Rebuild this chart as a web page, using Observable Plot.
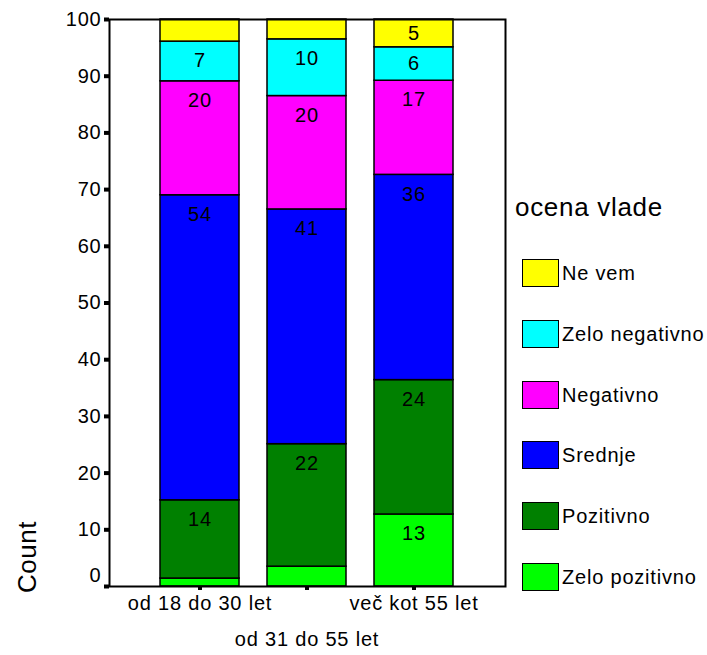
<!DOCTYPE html>
<html><head><meta charset="utf-8">
<script src="https://cdn.jsdelivr.net/npm/d3@7"></script>
<script src="https://cdn.jsdelivr.net/npm/@observablehq/plot@0.6"></script>
<style>
body{margin:0;background:#fff;font-family:"Liberation Sans",Arial,sans-serif;}
#wrap{position:relative;width:707px;height:655px;overflow:hidden;}
#wrap svg{position:absolute;left:0;top:0;}
.ltitle{position:absolute;left:515px;top:192px;font-size:26px;line-height:30px;white-space:nowrap;letter-spacing:0.7px;}
.sw{position:absolute;left:522px;width:37px;height:28px;box-sizing:border-box;border:1.5px solid #000;}
.lab{position:absolute;left:562px;font-size:20px;line-height:24px;white-space:nowrap;letter-spacing:0.8px;}
.count{position:absolute;left:27px;top:557px;font-size:26px;transform:translate(-50%,-50%) rotate(-90deg);white-space:nowrap;letter-spacing:0.5px;}
</style></head><body><div id="wrap"></div>
<script>
const groups = ["od 18 do 30 let", "od 31 do 55 let", "več kot 55 let"];
// stacking order, bottom to top
const categories = ["Zelo pozitivno", "Pozitivno", "Srednje", "Negativno", "Zelo negativno", "Ne vem"];
const colors = ["#00ff00", "#008000", "#0000ff", "#ff00ff", "#00ffff", "#ffff00"];
const zeloPozitivno = [1.4, 3.5, 12.7];
const pozitivno = [13.8, 21.6, 23.7];
const srednje = [53.8, 41.4, 36.2];
const negativno = [20.1, 20.0, 16.6];
const zeloNegativno = [7.0, 10.0, 5.9];
const neVem = [3.9, 3.5, 4.9];
const yTicks = [0, 10, 20, 30, 40, 50, 60, 70, 80, 90, 100];
const legendTitle = "ocena vlade";
const yLabel = "Count";

const series = [zeloPozitivno, pozitivno, srednje, negativno, zeloNegativno, neVem];
const rows = [];
const labels = [];
groups.forEach((g, gi) => {
  let start = 0;
  categories.forEach((c, ci) => {
    const v = series[ci][gi];
    const end = start + v;
    rows.push({group: g, category: c, value: v});
    if (v >= 4.5) labels.push({group: g, ly: Math.max(start + v / 2, end - 3.4), label: String(Math.round(v))});
    start = end;
  });
});

const font = '"Liberation Sans", Arial, sans-serif';
const chart = Plot.plot({
  width: 707, height: 655,
  marginLeft: 109, marginRight: 202, marginTop: 19, marginBottom: 69,
  style: {fontFamily: font, fontSize: "20px", background: "white", color: "black", overflow: "visible", letterSpacing: "0.8px"},
  x: {domain: groups, paddingInner: 0.2593, paddingOuter: 0.463, axis: null},
  y: {domain: [0, 100], axis: null},
  color: {domain: categories, range: colors},
  marks: [
    Plot.barY(rows, {x: "group", y: "value", fill: "category", stroke: "black", strokeWidth: 1.5, order: categories}),
    Plot.text(labels, {x: "group", y: "ly", text: "label", fontSize: 20, fill: "black"}),
    Plot.frame({stroke: "black", strokeWidth: 2}),
    Plot.axisY({ticks: yTicks, tickSize: 5, strokeWidth: 4, tickFormat: () => "", label: null}),
    Plot.axisX({tickSize: 4, strokeWidth: 4, tickFormat: () => "", label: null}),
    Plot.text(yTicks.filter(t => t > 0), {y: d => d, text: d => String(d), frameAnchor: "left", textAnchor: "end", dx: -8, fontSize: 20}),
    Plot.text(yTicks.filter(t => t === 0), {y: d => d, text: d => String(d), frameAnchor: "left", textAnchor: "end", dx: -8, dy: -11, fontSize: 20}),
    Plot.text(groups.filter((g, i) => i !== 1), {x: d => d, text: d => d, frameAnchor: "bottom", dy: 23, fontSize: 20}),
    Plot.text(groups.filter((g, i) => i === 1), {x: d => d, text: d => d, frameAnchor: "bottom", dy: 59, fontSize: 20})
  ]
});
const wrap = document.getElementById("wrap");
wrap.appendChild(chart);

const t = document.createElement("div");
t.className = "ltitle"; t.textContent = legendTitle; wrap.appendChild(t);
const cnt = document.createElement("div");
cnt.className = "count"; cnt.textContent = yLabel; wrap.appendChild(cnt);

const legendOrder = categories.slice().reverse();
legendOrder.forEach((c, i) => {
  const cy = 273 + i * 60.8;
  const s = document.createElement("div");
  s.className = "sw";
  s.style.top = (cy - 14) + "px";
  s.style.background = colors[categories.indexOf(c)];
  wrap.appendChild(s);
  const l = document.createElement("div");
  l.className = "lab";
  l.style.top = (cy - 12) + "px";
  l.textContent = c;
  wrap.appendChild(l);
});
</script></body></html>
